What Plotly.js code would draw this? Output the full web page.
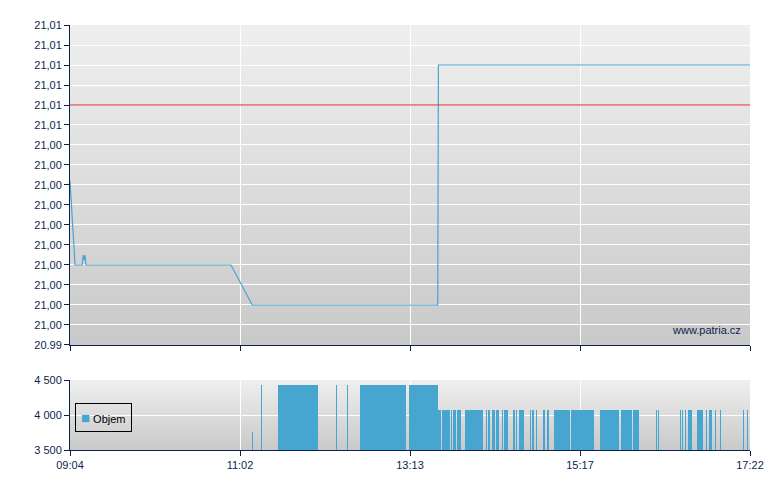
<!DOCTYPE html>
<html>
<head>
<meta charset="utf-8">
<script src="https://cdn.plot.ly/plotly-3.0.1.min.js"></script>
<style>
  html, body { margin:0; padding:0; background:#ffffff; }
  #wrap { position:relative; width:780px; height:490px; }
  .bg { position:absolute; background:linear-gradient(to bottom, #efefef 0%, #c9c9c9 100%); }
  #bgMain { left:70px; top:25px; width:680px; height:320px; }
  #bgVol { left:70px; top:380px; width:680px; height:70px; }
  #chart { position:absolute; left:0; top:0; width:780px; height:490px; }
</style>
</head>
<body>
<div id="wrap">
  <div id="bgMain" class="bg"></div>
  <div id="bgVol" class="bg"></div>
  <div id="chart"></div>
</div>
<script>
// Session position in minutes from 09:04 (axis is evenly labelled)
const xTickVals = [0, 124.5, 249, 373.5, 498];
const xTickText = ["09:04", "11:02", "13:13", "15:17", "17:22"];

// Price line
const priceX = [0, 3.7, 9.0, 9.7, 10.4, 11.0, 11.7, 117.9, 133.5, 269.3, 269.8, 498];
const priceY = [21.0022, 20.998, 20.998, 20.9985, 20.99825, 20.9985, 20.998, 20.998, 20.996, 20.996, 21.008, 21.008];
const refLevel = 21.006;

// Price axis ticks
const yTickVals = [20.994, 20.995, 20.996, 20.997, 20.998, 20.999, 21.000, 21.001, 21.002, 21.003, 21.004, 21.005, 21.006, 21.007, 21.008, 21.009, 21.010];
const yTickText = ["20.99", "21,00", "21,00", "21,00", "21,00", "21,00", "21,00", "21,00", "21,00", "21,00", "21,00", "21,01", "21,01", "21,01", "21,01", "21,01", "21,01"];

// Volume bars: start (min), duration (min), value
const volStart = [133.5, 139.9, 152.3, 194.8, 202.9, 212.4, 248.0,
  269.3, 272.7, 279.0, 280.3, 281.4, 283.6, 289.3, 304.7, 306.3, 308.8, 312.0, 316.2, 317.8,
  324.7, 326.6, 328.6, 336.7, 338.3, 341.1, 346.6, 349.1, 354.2, 366.7, 388.1, 403.5, 412.5,
  429.2, 430.4, 446.7, 448.2, 450.2, 452.6, 459.2, 465.8, 467.7, 472.4, 475.8, 492.9, 495.8];
const volDur = [0.7, 0.7, 29.1, 0.7, 0.7, 33.5, 21.3,
  2.4, 5.6, 0.7, 0.6, 1.0, 2.5, 12.9, 0.9, 1.3, 2.5, 2.0, 1.1, 2.8,
  1.2, 1.0, 3.9, 0.9, 1.5, 0.7, 1.3, 1.7, 12.0, 17.3, 14.0, 8.3, 4.0,
  0.7, 0.7, 0.7, 0.7, 0.7, 2.9, 4.4, 0.7, 2.5, 0.7, 0.7, 0.6, 0.7];
const volValue = [3760, 4430, 4430, 4430, 4430, 4430, 4430,
  4070, 4070, 4070, 4070, 4070, 4070, 4070, 4070, 4070, 4070, 4070, 4070, 4070,
  4070, 4070, 4070, 4070, 4070, 4070, 4070, 4070, 4070, 4070, 4070, 4070, 4070,
  4070, 4070, 4070, 4070, 4070, 4070, 4070, 4070, 4070, 4070, 4070, 4070, 4070];

const volTickVals = [3500, 4000, 4500];
const volTickText = ["3 500", "4 000", "4 500"];
const volName = "Objem";

const navy = "#0c1f4f";
const blue = "#46a6cf";
const font = { family: "Liberation Sans, Arial, sans-serif", size: 11, color: navy };

const traces = [
  {
    type: "scatter", mode: "lines", x: priceX, y: priceY,
    xaxis: "x", yaxis: "y",
    line: { color: "#4aa4cf", width: 1.2 },
    showlegend: false, hoverinfo: "skip"
  },
  {
    type: "bar", name: volName, x: volStart, y: volValue, width: volDur, offset: 0,
    xaxis: "x2", yaxis: "y2",
    marker: { color: blue, line: { width: 0 } },
    showlegend: false, hoverinfo: "skip"
  }
];

const axisCommon = {
  showline: true, linecolor: navy, linewidth: 1,
  ticks: "outside", tickcolor: navy, ticklen: 5, tickwidth: 1,
  gridcolor: "#ffffff", gridwidth: 1, zeroline: false,
  tickfont: font, fixedrange: true
};

const layout = {
  width: 780, height: 490,
  margin: { l: 70, r: 30, t: 25, b: 40 },
  paper_bgcolor: "rgba(0,0,0,0)",
  plot_bgcolor: "rgba(0,0,0,0)",
  font: font,
  bargap: 0,
  showlegend: false,
  xaxis: Object.assign({}, axisCommon, {
    domain: [0, 1], anchor: "y", range: [0, 498],
    tickvals: xTickVals, ticktext: xTickText, showticklabels: false
  }),
  yaxis: Object.assign({}, axisCommon, {
    domain: [0.2471, 1], anchor: "x", range: [20.994, 21.010],
    tickvals: yTickVals, ticktext: yTickText
  }),
  xaxis2: Object.assign({}, axisCommon, {
    domain: [0, 1], anchor: "y2", range: [0, 498],
    tickvals: xTickVals, ticktext: xTickText
  }),
  yaxis2: Object.assign({}, axisCommon, {
    domain: [0, 0.1647], anchor: "x2", range: [3500, 4500],
    tickvals: volTickVals, ticktext: volTickText
  }),
  shapes: [
    {
      type: "line", xref: "x domain", yref: "y",
      x0: 0, x1: 1, y0: refLevel, y1: refLevel,
      line: { color: "#d42a2a", width: 1 }, layer: "above"
    }
  ],
  annotations: [
    {
      text: "www.patria.cz", xref: "paper", yref: "paper",
      x: 0.9897, y: 0.2471 + 0.036, xanchor: "right", yanchor: "middle",
      showarrow: false, font: { family: "Liberation Sans, Arial, sans-serif", size: 11, color: navy }
    },
    {
      text: "<span style='color:" + blue + ";font-size:15px'>■</span> " + volName,
      xref: "paper", yref: "paper",
      x: 0.0074, y: 0.0753, xanchor: "left", yanchor: "middle",
      showarrow: false, align: "left",
      bordercolor: "#000000", borderwidth: 1, borderpad: 5,
      bgcolor: "rgba(0,0,0,0)",
      font: { family: "Liberation Sans, Arial, sans-serif", size: 11, color: "#000000" }
    }
  ]
};

Plotly.newPlot("chart", traces, layout, { displayModeBar: false, staticPlot: true });
</script>
</body>
</html>
